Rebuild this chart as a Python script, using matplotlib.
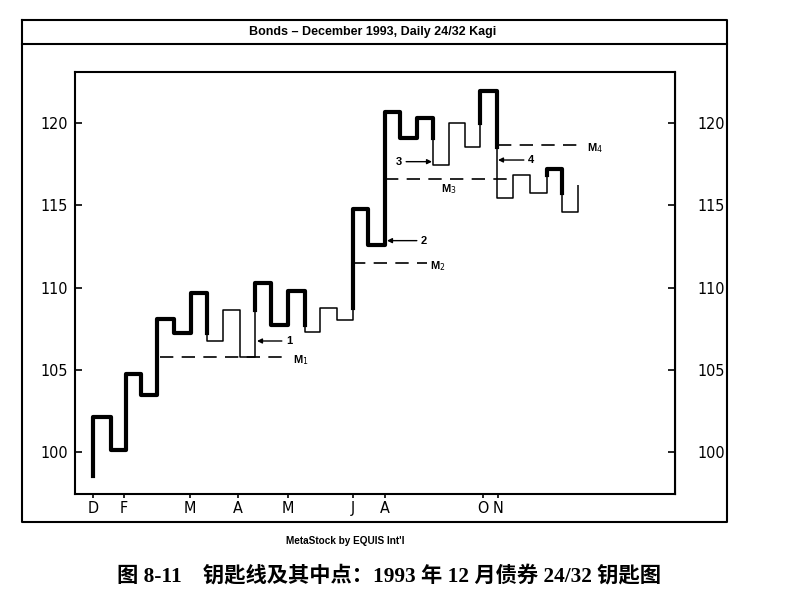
import numpy as np
import matplotlib.pyplot as plt
from matplotlib.lines import Line2D

plt.rcParams['font.family'] = ['Liberation Sans', 'DejaVu Sans']

# kagi chart, values
# x position of each vertical stroke (chart column units)
kagi_x = [93, 111, 126, 141, 157, 174, 191, 207, 223, 240, 255, 271, 288, 305, 320, 337,
          353, 368, 385, 400, 417, 433, 449, 465, 480, 497, 513, 530, 547, 562, 578]
# start price, then the price each stroke ends at
kagi_y = [98.56, 102.15, 100.12, 104.74, 103.46, 108.08, 107.25, 109.65, 106.77, 108.63,
          105.79, 110.26, 107.72, 109.79, 107.31, 108.77, 108.02, 114.77, 112.58, 120.67,
          119.07, 120.32, 117.45, 119.98, 118.52, 121.96, 115.42, 116.84, 115.76, 117.19,
          114.61, 116.23]

# midpoint lines
mid_names = ['M$_1$', 'M$_2$', 'M$_3$', 'M$_4$']
mid_level = [105.8, 111.47, 116.6, 118.66]
mid_x0 = [160, 352, 385, 498]
mid_x1 = [290, 427, 510, 583]
mid_lx = [293, 430, 441, 587]
mid_ly = [105.6, 111.3, 116.0, 118.5]

# numbered arrows
arr_names = ['1', '2', '3', '4']
arr_level = [106.75, 112.85, 117.65, 117.75]
arr_tip = [257, 387, 432, 498]
arr_lab = [286, 421, 402, 528]

month_pos = [93, 124, 190, 238, 288, 353, 385, 483, 498]
month_lab = ['D', 'F', 'M', 'A', 'M', 'J', 'A', 'O', 'N']
price_ticks = [100, 105, 110, 115, 120]

W, H = 790, 602
fig = plt.figure(figsize=(W / 100, H / 100), dpi=100)
ax = fig.add_axes([75 / W, 1 - 494 / H, 600 / W, 422 / H])

# split strokes into thick (yang) and thin (yin) runs
runs = []
thick = True
cur = [(kagi_x[0], kagi_y[0])]
shoulder = None
waist = None
for i in range(len(kagi_x)):
    a, b = kagi_y[i], kagi_y[i + 1]
    x = kagi_x[i]
    if b > a:
        if not thick and shoulder is not None and b > shoulder:
            cur.append((x, shoulder))
            runs.append((cur, thick))
            cur = [(x, shoulder)]
            thick = True
        cur.append((x, b))
        shoulder = b
    else:
        if thick and waist is not None and b < waist:
            cur.append((x, waist))
            runs.append((cur, thick))
            cur = [(x, waist)]
            thick = False
        cur.append((x, b))
        waist = b
    if i + 1 < len(kagi_x):
        cur.append((kagi_x[i + 1], b))
runs.append((cur, thick))

for pts, tk in runs:
    pts = np.array(pts)
    ax.plot(pts[:, 0], pts[:, 1], color='black', lw=3.0 if tk else 1.1,
            solid_joinstyle='round', solid_capstyle='projecting' if tk else 'butt')

for name, lv, x0, x1, lx, ly in zip(mid_names, mid_level, mid_x0, mid_x1, mid_lx, mid_ly):
    ax.plot([x0, x1], [lv, lv], color='black', lw=1.2, dashes=(8, 5))
    ax.text(lx, ly, name, fontsize=8, fontweight='bold', ha='left', va='center')

for name, lv, tip, lx in zip(arr_names, arr_level, arr_tip, arr_lab):
    ha = 'right' if lx < tip else 'left'
    ax.annotate(name, xy=(tip, lv), xytext=(lx, lv), fontsize=8, fontweight='bold',
                ha=ha, va='center',
                arrowprops=dict(arrowstyle='-|>', color='black', lw=1.0,
                                mutation_scale=7, shrinkA=1, shrinkB=0))

ax.set_xlim(75, 675)
ax.set_ylim(97.45, 123.1)
ax.set_yticks(price_ticks)
ax.set_xticks(month_pos)
ax.set_xticklabels(month_lab)
for lab in ax.get_yticklabels() + ax.get_xticklabels():
    lab.set_family('DejaVu Sans')
    lab.set_stretch('condensed')
    lab.set_fontsize(11.5)
ax.tick_params(axis='y', direction='in', length=5, width=1.2, pad=5)
ax.tick_params(axis='x', direction='out', length=3, width=1.2, pad=2)
for s in ax.spines.values():
    s.set_linewidth(1.5)

sec = ax.secondary_yaxis('right')
sec.set_yticks(price_ticks)
sec.tick_params(direction='in', length=5, width=1.2, pad=16)
for lab in sec.get_yticklabels():
    lab.set_family('DejaVu Sans')
    lab.set_stretch('condensed')
    lab.set_fontsize(11.5)

# outer frame and title bar
def fx(p):
    return p / W

def fy(p):
    return 1 - p / H

for xs, ys in [([22, 727, 727, 22, 22], [20, 20, 522, 522, 20]), ([22, 727], [44, 44])]:
    fig.add_artist(Line2D([fx(v) for v in xs], [fy(v) for v in ys], color='black', lw=1.5))

fig.text(fx(373), fy(32), 'Bonds \u2013 December 1993, Daily 24/32 Kagi', fontsize=9,
         fontweight='bold', ha='center', va='center')
fig.text(fx(345), fy(541), "MetaStock by EQUIS Int'l", fontsize=7.2, fontweight='bold',
         ha='center', va='center')
fig.text(fx(117), fy(576), '图 8-11\u3000钥匙线及其中点：1993 年 12 月债券 24/32 钥匙图',
         fontsize=15.3, fontweight='bold', ha='left', va='center',
         family=['Liberation Serif', 'Noto Sans CJK SC'])

fig.savefig('out.png', dpi=100)
